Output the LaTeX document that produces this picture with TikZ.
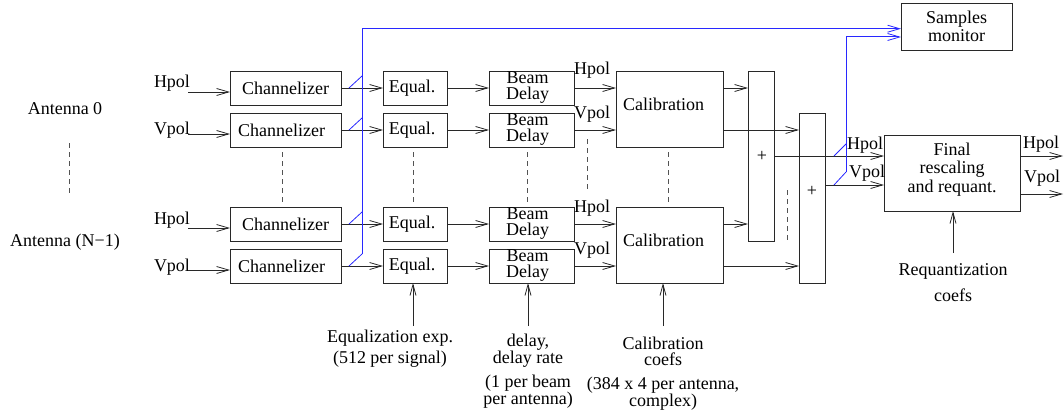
\documentclass[tikz,border=0pt]{standalone}
\usepackage{fontspec}
\setmainfont{Liberation Serif}
\newfontfamily\tnr{Liberation Serif}
\usetikzlibrary{arrows.meta}
\definecolor{mblue}{RGB}{40,40,255}
\definecolor{edge}{RGB}{40,40,40}
\begin{document}
\begin{tikzpicture}[x=1pt,y=-1pt,
  every node/.style={inner sep=0pt, outer sep=0pt, font=\tnr\fontsize{18}{18}\selectfont},
  box/.style={draw=edge, line width=0.9pt, rectangle},
  conn/.style={draw=edge, line width=0.9pt, -{Straight Barb[length=12pt,width=7pt,line width=0.8pt]}},
  upconn/.style={draw=edge, line width=0.9pt, -{Straight Barb[length=11pt,width=6pt,line width=0.8pt]}},
  bconn/.style={draw=mblue, line width=1pt, -{Straight Barb[length=12pt,width=7pt,line width=0.8pt]}},
  tap/.style={draw=mblue, line width=0.8pt},
  dsh/.style={draw=edge!80, line width=0.8pt, dash pattern=on 5pt off 4pt},
  lbl/.style={text=black}
]
\useasboundingbox (0,0) rectangle (1064,417);

% Antenna labels
\node[lbl] (ant0) at (65,109) {Antenna 0};
\node[lbl] (antN) at (65,242) {Antenna (N−1)};
\draw[dsh] (69,143) -- (69,194);

% Channelizers
\node[box, minimum width=111pt, minimum height=34pt] (c1) at (285.5,88) {Channelizer};
\node[box, minimum width=111pt, minimum height=34pt] (c2) at (285.5,130) {\hspace*{-8pt}Channelizer};
\node[box, minimum width=111pt, minimum height=34pt] (c3) at (285.5,224) {Channelizer};
\node[box, minimum width=111pt, minimum height=34pt] (c4) at (285.5,266) {\hspace*{-8pt}Channelizer};

% Equal
\foreach \i/\y in {1/88,2/130,3/224,4/266}
  \node[box, minimum width=64pt, minimum height=34pt] (e\i) at (415,\y) {\hspace*{-6pt}Equal.};

% Beam delay
\foreach \i/\y in {1/88,2/130,3/224,4/266}
  \node[box, minimum width=85pt, minimum height=34pt, align=center, font=\tnr\fontsize{18}{16}\selectfont] (b\i) at (531.5,\y) {\hspace*{-8pt}Beam\\\hspace*{-8pt}Delay};

% Calibration
\node[box, minimum width=107pt, minimum height=76pt] (cal1) at (669.5,109) {};
\node[box, minimum width=107pt, minimum height=76pt] (cal2) at (669.5,245) {};
\node[lbl] (cal1t) at (663.5,104) {Calibration};
\node[lbl] (cal2t) at (663.5,240) {Calibration};

% Adders
\node[box, minimum width=26pt, minimum height=170pt] (a1) at (761,156) {};
\node[box, minimum width=26pt, minimum height=170pt] (a2) at (812,198) {};
\node[lbl] (p1) at (762,156) {+};
\node[lbl] (p2) at (812,191) {+};

% Final
\node[box, minimum width=136pt, minimum height=76pt] (fin) at (952,173) {};
\node[lbl, align=center, font=\tnr\fontsize{18}{18.5}\selectfont] (fint) at (952,169.5) {Final\\rescaling\\and requant.};

% Samples monitor
\node[box, minimum width=111pt, minimum height=47pt, align=center, font=\tnr\fontsize{18}{18}\selectfont] (mon) at (956.5,26.5) {Samples\\monitor};

% Input arrows and labels
\foreach \i/\y/\t/\b in {1/92/Hpol/88,2/134/Vpol/135,3/228/Hpol/224,4/270/Vpol/271}{
  \coordinate (in\i) at (188,\y);
  \node[lbl, anchor=base east] (inl\i) at (190,\b) {\t};
  \draw[conn] (in\i) -- (in\i -| c1.west);
}

% Channelizer -> Equal -> Beam delay
\foreach \i in {1,2,3,4}{
  \draw[conn] (c\i.east) -- (e\i.west);
  \draw[conn] (e\i.east) -- (b\i.west);
}

% Beam delay -> Calibration with labels
\draw[conn] (b1.east) -- (b1.east -| cal1.west);
\draw[conn] (b2.east) -- (b2.east -| cal1.west);
\draw[conn] (b3.east) -- (b3.east -| cal2.west);
\draw[conn] (b4.east) -- (b4.east -| cal2.west);
\node[lbl, anchor=base west] (bl1) at (574,75) {Hpol};
\node[lbl, anchor=base west] (bl2) at (574,118) {Vpol};
\node[lbl, anchor=base west] (bl3) at (574,212) {Hpol};
\node[lbl, anchor=base west] (bl4) at (574,254) {Vpol};

% Calibration -> adders
\draw[conn] (cal1.east |- b1.east) -- (a1.west |- b1.east);
\draw[conn] (cal1.east |- b2.east) -- (a2.west |- b2.east);
\draw[conn] (cal2.east |- b3.east) -- (a1.west |- b3.east);
\draw[conn] (cal2.east |- b4.east) -- (a2.west |- b4.east);

% Adders -> Final
\coordinate (a1o) at (774,156);
\coordinate (a2o) at (825,185);
\draw[conn] (a1o) -- (a1o -| fin.west);
\draw[conn] (a2o) -- (a2o -| fin.west);
\node[lbl, anchor=base west] (fl1) at (847,149) {Hpol};
\node[lbl, anchor=base west] (fl2) at (849,177) {Vpol};

% Final outputs
\coordinate (o1) at (1063,156);
\coordinate (o2) at (1063,194);
\draw[conn] (o1 -| fin.east) -- (o1);
\draw[conn] (o2 -| fin.east) -- (o2);
\node[lbl, anchor=base west] (ol1) at (1023,148) {Hpol};
\node[lbl, anchor=base west] (ol2) at (1024,182) {Vpol};

% Dashed continuation lines
\draw[dsh] (282,152) -- (282,202);
\draw[dsh] (413,152) -- (413,202);
\draw[dsh] (527,152) -- (527,202);
\draw[dsh] (587,139) -- (587,190);
\draw[dsh] (668,152) -- (668,202);
\draw[dsh] (787,190) -- (787,241);

% Bottom parameter inputs
\coordinate (eqin) at (413,326);
\coordinate (bdin) at (528,326);
\coordinate (calin) at (663,326);
\coordinate (rqin) at (953,253);
\draw[upconn] (eqin) -- (eqin |- e4.south);
\draw[upconn] (bdin) -- (bdin |- b4.south);
\draw[upconn] (calin) -- (calin |- cal2.south);
\draw[upconn] (rqin) -- (rqin |- fin.south);

\node[lbl, align=center, font=\tnr\fontsize{18}{21}\selectfont] (eqt) at (390,348.5) {Equalization exp.\\(512 per signal)};
\node[lbl, align=center, font=\tnr\fontsize{18}{16}\selectfont] (bdt) at (528,351) {delay,\\delay rate};
\node[lbl, align=center, font=\tnr\fontsize{18}{13}\selectfont] (bdt2) at (528,392) {(1 per beam\\per antenna)};
\node[lbl, align=center, font=\tnr\fontsize{18}{16}\selectfont] (calt) at (663,351) {Calibration\\coefs};
\node[lbl, align=center, font=\tnr\fontsize{18}{16}\selectfont] (calt2) at (663,394) {(384 x 4 per antenna,\\complex)};
\node[lbl, align=center, font=\tnr\fontsize{18}{26}\selectfont] (rqt) at (953,283) {Requantization\\coefs};

% Blue sample taps
\coordinate (bt) at (362,28.7);
\coordinate (bb) at (362,254);
\draw[bconn] (bb) -- (bt) -- (bt -| mon.west);
\foreach \y in {88,130,224,266}
  \draw[tap] (349,\y) -- (362,\y-12);
\coordinate (bt2) at (846,37);
\coordinate (bb2) at (846,172);
\draw[bconn] (bb2) -- (bt2) -- (bt2 -| mon.west);
\draw[tap] (834,156) -- (846,144);
\draw[tap] (834,185) -- (846,172);
\end{tikzpicture}
\end{document}
